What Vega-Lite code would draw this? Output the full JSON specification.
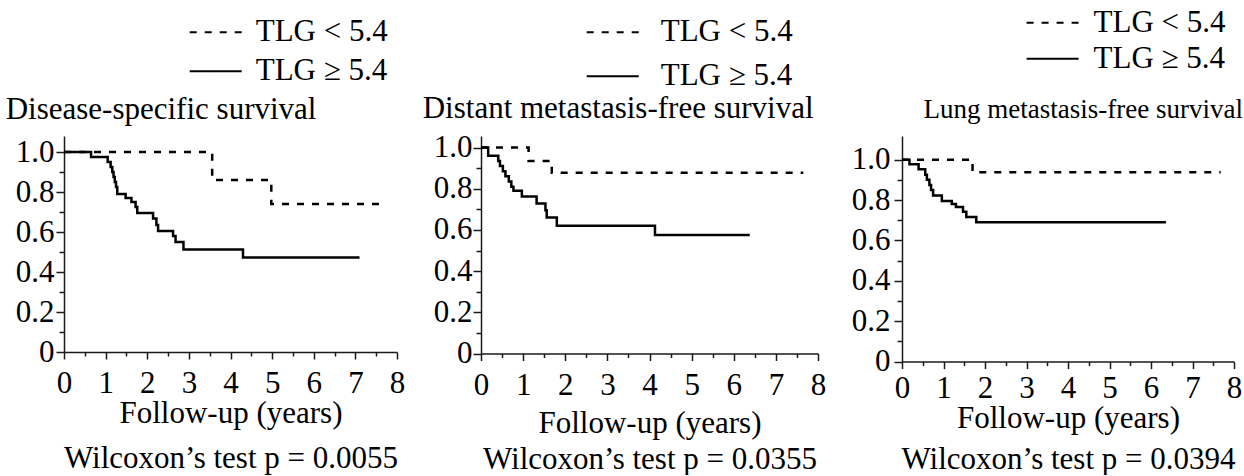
{
  "$schema": "https://vega.github.io/schema/vega-lite/v6.json",
  "background": "white",
  "padding": {"left": 5, "top": 7, "right": 0, "bottom": 0},
  "datasets": {
    "km": [
      {"panel": "DSS", "group": "TLG < 5.4", "t": 0, "s": 1},
      {"panel": "DSS", "group": "TLG < 5.4", "t": 3.56, "s": 0.86},
      {"panel": "DSS", "group": "TLG < 5.4", "t": 4.98, "s": 0.74},
      {"panel": "DSS", "group": "TLG < 5.4", "t": 7.6, "s": 0.74},
      {"panel": "DSS", "group": "TLG ≥ 5.4", "t": 0, "s": 1},
      {"panel": "DSS", "group": "TLG ≥ 5.4", "t": 0.65, "s": 0.975},
      {"panel": "DSS", "group": "TLG ≥ 5.4", "t": 1.05, "s": 0.95},
      {"panel": "DSS", "group": "TLG ≥ 5.4", "t": 1.12, "s": 0.925},
      {"panel": "DSS", "group": "TLG ≥ 5.4", "t": 1.16, "s": 0.9},
      {"panel": "DSS", "group": "TLG ≥ 5.4", "t": 1.19, "s": 0.875},
      {"panel": "DSS", "group": "TLG ≥ 5.4", "t": 1.22, "s": 0.85},
      {"panel": "DSS", "group": "TLG ≥ 5.4", "t": 1.25, "s": 0.825},
      {"panel": "DSS", "group": "TLG ≥ 5.4", "t": 1.28, "s": 0.79},
      {"panel": "DSS", "group": "TLG ≥ 5.4", "t": 1.48, "s": 0.77},
      {"panel": "DSS", "group": "TLG ≥ 5.4", "t": 1.62, "s": 0.75},
      {"panel": "DSS", "group": "TLG ≥ 5.4", "t": 1.72, "s": 0.725},
      {"panel": "DSS", "group": "TLG ≥ 5.4", "t": 1.76, "s": 0.695},
      {"panel": "DSS", "group": "TLG ≥ 5.4", "t": 2.14, "s": 0.667},
      {"panel": "DSS", "group": "TLG ≥ 5.4", "t": 2.22, "s": 0.635},
      {"panel": "DSS", "group": "TLG ≥ 5.4", "t": 2.26, "s": 0.605},
      {"panel": "DSS", "group": "TLG ≥ 5.4", "t": 2.62, "s": 0.58},
      {"panel": "DSS", "group": "TLG ≥ 5.4", "t": 2.68, "s": 0.55},
      {"panel": "DSS", "group": "TLG ≥ 5.4", "t": 2.87, "s": 0.512},
      {"panel": "DSS", "group": "TLG ≥ 5.4", "t": 4.3, "s": 0.472},
      {"panel": "DSS", "group": "TLG ≥ 5.4", "t": 7.1, "s": 0.472},
      {"panel": "DMFS", "group": "TLG < 5.4", "t": 0, "s": 1},
      {"panel": "DMFS", "group": "TLG < 5.4", "t": 1.13, "s": 0.935},
      {"panel": "DMFS", "group": "TLG < 5.4", "t": 1.68, "s": 0.877},
      {"panel": "DMFS", "group": "TLG < 5.4", "t": 7.65, "s": 0.877},
      {"panel": "DMFS", "group": "TLG ≥ 5.4", "t": 0, "s": 1},
      {"panel": "DMFS", "group": "TLG ≥ 5.4", "t": 0.17, "s": 0.96},
      {"panel": "DMFS", "group": "TLG ≥ 5.4", "t": 0.41, "s": 0.935},
      {"panel": "DMFS", "group": "TLG ≥ 5.4", "t": 0.45, "s": 0.91},
      {"panel": "DMFS", "group": "TLG ≥ 5.4", "t": 0.52, "s": 0.885},
      {"panel": "DMFS", "group": "TLG ≥ 5.4", "t": 0.58, "s": 0.86},
      {"panel": "DMFS", "group": "TLG ≥ 5.4", "t": 0.66, "s": 0.835},
      {"panel": "DMFS", "group": "TLG ≥ 5.4", "t": 0.72, "s": 0.81},
      {"panel": "DMFS", "group": "TLG ≥ 5.4", "t": 0.77, "s": 0.79},
      {"panel": "DMFS", "group": "TLG ≥ 5.4", "t": 0.97, "s": 0.762},
      {"panel": "DMFS", "group": "TLG ≥ 5.4", "t": 1.32, "s": 0.728},
      {"panel": "DMFS", "group": "TLG ≥ 5.4", "t": 1.53, "s": 0.695},
      {"panel": "DMFS", "group": "TLG ≥ 5.4", "t": 1.56, "s": 0.66},
      {"panel": "DMFS", "group": "TLG ≥ 5.4", "t": 1.8, "s": 0.62},
      {"panel": "DMFS", "group": "TLG ≥ 5.4", "t": 4.13, "s": 0.575},
      {"panel": "DMFS", "group": "TLG ≥ 5.4", "t": 6.38, "s": 0.575},
      {"panel": "LMFS", "group": "TLG < 5.4", "t": 0, "s": 1},
      {"panel": "LMFS", "group": "TLG < 5.4", "t": 1.7, "s": 0.937},
      {"panel": "LMFS", "group": "TLG < 5.4", "t": 7.68, "s": 0.937},
      {"panel": "LMFS", "group": "TLG ≥ 5.4", "t": 0, "s": 1},
      {"panel": "LMFS", "group": "TLG ≥ 5.4", "t": 0.18, "s": 0.977},
      {"panel": "LMFS", "group": "TLG ≥ 5.4", "t": 0.4, "s": 0.952},
      {"panel": "LMFS", "group": "TLG ≥ 5.4", "t": 0.56, "s": 0.925},
      {"panel": "LMFS", "group": "TLG ≥ 5.4", "t": 0.6, "s": 0.9},
      {"panel": "LMFS", "group": "TLG ≥ 5.4", "t": 0.66, "s": 0.875},
      {"panel": "LMFS", "group": "TLG ≥ 5.4", "t": 0.7, "s": 0.85},
      {"panel": "LMFS", "group": "TLG ≥ 5.4", "t": 0.75, "s": 0.822},
      {"panel": "LMFS", "group": "TLG ≥ 5.4", "t": 0.96, "s": 0.795},
      {"panel": "LMFS", "group": "TLG ≥ 5.4", "t": 1.2, "s": 0.78},
      {"panel": "LMFS", "group": "TLG ≥ 5.4", "t": 1.3, "s": 0.765},
      {"panel": "LMFS", "group": "TLG ≥ 5.4", "t": 1.47, "s": 0.742},
      {"panel": "LMFS", "group": "TLG ≥ 5.4", "t": 1.55, "s": 0.716},
      {"panel": "LMFS", "group": "TLG ≥ 5.4", "t": 1.79, "s": 0.69},
      {"panel": "LMFS", "group": "TLG ≥ 5.4", "t": 6.36, "s": 0.69}
    ]
  },
  "bounds": "flush",
  "spacing": 84,
  "resolve": {"scale": {"strokeDash": "independent"}, "legend": {"strokeDash": "independent"}},
  "hconcat": [
    {
      "width": 333,
      "height": 216,
      "data": {"name": "km"},
      "transform": [{"filter": "datum.panel === 'DSS'"}],
      "mark": {"type": "line", "interpolate": "step-after", "strokeWidth": 2.5, "color": "black"},
      "encoding": {
        "x": {"field": "t", "type": "quantitative", "scale": {"domain": [0, 8], "nice": false},
          "axis": {"values": [0, 0.5, 1, 1.5, 2, 2.5, 3, 3.5, 4, 4.5, 5, 5.5, 6, 6.5, 7, 7.5, 8],
            "labelExpr": "datum.value % 1 === 0 ? format(datum.value, 'd') : ''",
            "tickSize": {"condition": {"test": "datum.value % 1 === 0", "value": 7}, "value": 4},
            "title": ["Follow-up (years)", "Wilcoxon’s test p = 0.0055"],
            "titleLineHeight": 45, "titlePadding": 0, "labelPadding": 9}},
        "y": {"field": "s", "type": "quantitative", "scale": {"domain": [0, 1.08], "nice": false},
          "axis": {"values": [0, 0.1, 0.2, 0.3, 0.4, 0.5, 0.6, 0.7, 0.8, 0.9, 1.0],
            "labelExpr": "round(datum.value * 10) % 2 === 0 ? (datum.value === 0 ? '0' : format(datum.value, '.1f')) : ''",
            "tickSize": {"condition": {"test": "round(datum.value * 10) % 2 === 0", "value": 8}, "value": 5},
            "title": null, "labelPadding": 2}},
        "strokeDash": {"field": "group", "type": "nominal",
          "scale": {"domain": ["TLG < 5.4", "TLG ≥ 5.4"], "range": [[7, 8], [1, 0]]},
          "legend": {"title": "Disease-specific survival", "legendX": -58.3, "legendY": -119.2,
            "symbolOffset": 183, "labelOffset": 13, "rowPadding": 7, "titlePadding": 8}}
      }
    },
    {
      "width": 337,
      "height": 217.5,
      "data": {"name": "km"},
      "transform": [{"filter": "datum.panel === 'DMFS'"}],
      "mark": {"type": "line", "interpolate": "step-after", "strokeWidth": 2.5, "color": "black"},
      "encoding": {
        "x": {"field": "t", "type": "quantitative", "scale": {"domain": [0, 8], "nice": false},
          "axis": {"values": [0, 0.5, 1, 1.5, 2, 2.5, 3, 3.5, 4, 4.5, 5, 5.5, 6, 6.5, 7, 7.5, 8],
            "labelExpr": "datum.value % 1 === 0 ? format(datum.value, 'd') : ''",
            "tickSize": {"condition": {"test": "datum.value % 1 === 0", "value": 7}, "value": 4},
            "title": ["Follow-up (years)", "Wilcoxon’s test p = 0.0355"],
            "titleLineHeight": 36, "titlePadding": 8, "labelPadding": 10}},
        "y": {"field": "s", "type": "quantitative", "scale": {"domain": [0, 1.056], "nice": false},
          "axis": {"values": [0, 0.1, 0.2, 0.3, 0.4, 0.5, 0.6, 0.7, 0.8, 0.9, 1.0],
            "labelExpr": "round(datum.value * 10) % 2 === 0 ? (datum.value === 0 ? '0' : format(datum.value, '.1f')) : ''",
            "tickSize": {"condition": {"test": "round(datum.value * 10) % 2 === 0", "value": 8}, "value": 5},
            "title": null, "labelPadding": 1}},
        "strokeDash": {"field": "group", "type": "nominal",
          "scale": {"domain": ["TLG < 5.4", "TLG ≥ 5.4"], "range": [[7, 8], [1, 0]]},
          "legend": {"title": "Distant metastasis-free survival", "legendX": -58.3, "legendY": -119.2,
            "symbolOffset": 163, "labelOffset": 21, "rowPadding": 12, "titlePadding": 2}}
      }
    },
    {
      "width": 332,
      "height": 225.6,
      "data": {"name": "km"},
      "transform": [{"filter": "datum.panel === 'LMFS'"}],
      "mark": {"type": "line", "interpolate": "step-after", "strokeWidth": 2.5, "color": "black"},
      "encoding": {
        "x": {"field": "t", "type": "quantitative", "scale": {"domain": [0, 8], "nice": false},
          "axis": {"values": [0, 0.5, 1, 1.5, 2, 2.5, 3, 3.5, 4, 4.5, 5, 5.5, 6, 6.5, 7, 7.5, 8],
            "labelExpr": "datum.value % 1 === 0 ? format(datum.value, 'd') : ''",
            "tickSize": {"condition": {"test": "datum.value % 1 === 0", "value": 7}, "value": 4},
            "title": ["Follow-up (years)", "Wilcoxon’s test p = 0.0394"],
            "titleLineHeight": 41, "titlePadding": 0, "labelPadding": 5}},
        "y": {"field": "s", "type": "quantitative", "scale": {"domain": [0, 1.117], "nice": false},
          "axis": {"values": [0, 0.1, 0.2, 0.3, 0.4, 0.5, 0.6, 0.7, 0.8, 0.9, 1.0],
            "labelExpr": "round(datum.value * 10) % 2 === 0 ? (datum.value === 0 ? '0' : format(datum.value, '.1f')) : ''",
            "tickSize": {"condition": {"test": "round(datum.value * 10) % 2 === 0", "value": 8}, "value": 5},
            "title": null, "labelPadding": 4}},
        "strokeDash": {"field": "group", "type": "nominal",
          "scale": {"domain": ["TLG < 5.4", "TLG ≥ 5.4"], "range": [[7, 8], [1, 0]]},
          "legend": {"title": "Lung metastasis-free survival", "titleFontSize": 27, "legendX": 21.6, "legendY": -128.7,
            "symbolOffset": 102, "labelOffset": 14, "rowPadding": 4, "titlePadding": 23}}
      }
    }
  ],
  "config": {
    "font": "Liberation Serif",
    "view": {"stroke": null},
    "axis": {
      "grid": false,
      "domainColor": "#1a1a1a", "domainWidth": 1.5,
      "tickColor": "#1a1a1a", "tickWidth": 1.5,
      "labelColor": "black", "labelFont": "Liberation Serif", "labelFontSize": 31,
      "titleColor": "black", "titleFont": "Liberation Serif", "titleFontSize": 31, "titleFontWeight": "normal",
      "labelOverlap": false, "labelFlush": false
    },
    "legend": {
      "orient": "none",
      "padding": 0,
      "clipHeight": 31,
      "labelFont": "Liberation Serif", "labelFontSize": 31, "labelColor": "black", "labelLimit": 500,
      "titleFont": "Liberation Serif", "titleFontSize": 31, "titleFontWeight": "normal", "titleColor": "black",
      "titleOrient": "bottom", "titleAnchor": "start", "titleLimit": 800,
      "symbolType": "stroke", "symbolSize": 2704, "symbolStrokeWidth": 2, "symbolStrokeColor": "black"
    },
    "title": {"font": "Liberation Serif"}
  }
}
